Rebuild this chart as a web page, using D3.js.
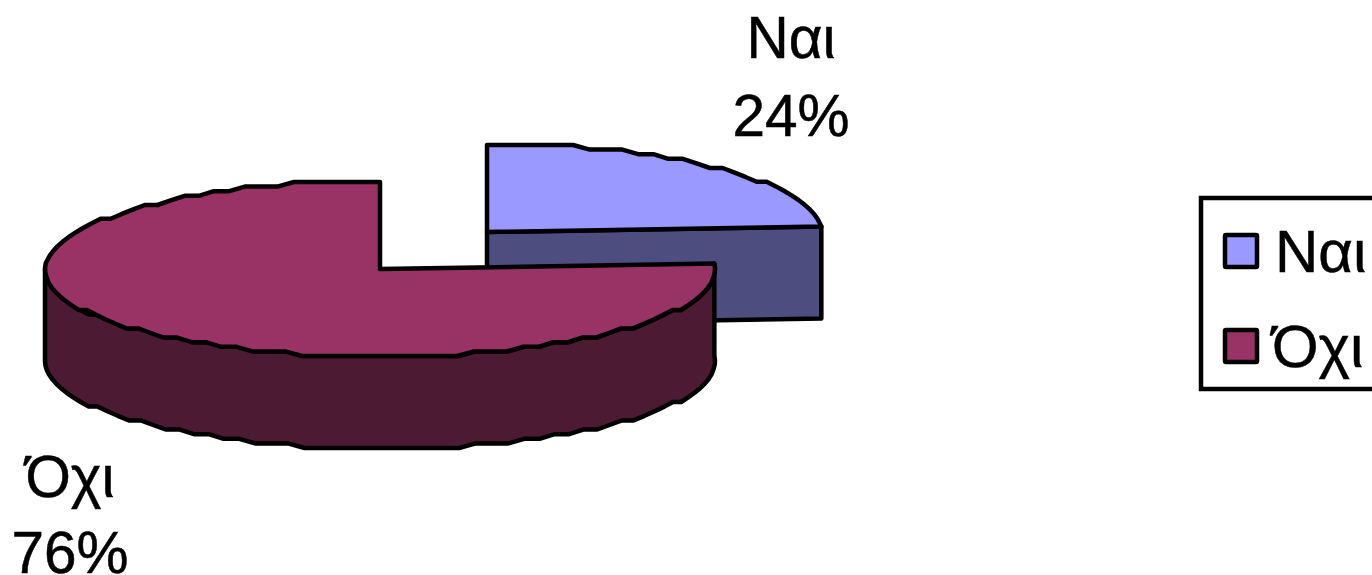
<!DOCTYPE html>
<html>
<head>
<meta charset="utf-8">
<script src="https://cdn.jsdelivr.net/npm/d3@7"></script>
<style>
  html, body { margin: 0; padding: 0; background: #fff; overflow: hidden; }
  text { font-family: "Liberation Sans", Arial, sans-serif; fill: #000; stroke: #000; stroke-width: 0.5px; }
</style>
</head>
<body>
<div id="chart"></div>
<script>
// Data
const categories = ["Ναι", "Όχι"];
const values = [24, 76];
const percentLabels = ["24%", "76%"];
const topColors = ["#9999ff", "#993366"];
const sideColors = ["#4d4d80", "#4d1a33"];

const width = 1372;
const height = 575;
const stroke = 4.5;

const rx = 335, ry = 87, depth = 92;
const stepY = 4.6; // the curve in the original is snapped to a coarse grid

// pie centers, the Nai slice is pulled out
const centers = [{ x: 487, y: 232 }, { x: 380, y: 269 }];

const svg = d3.select("#chart").append("svg")
    .attr("width", width)
    .attr("height", height);

const arcs = d3.pie().sort(null)(values);

const xUnit = d3.scaleLinear().domain([-1, 1]).range([-rx, rx]);
const yUnit = d3.scaleLinear().domain([-1, 1]).range([-ry, ry]);

// point on the rim, angle as in d3.pie (0 = top, clockwise)
function rim(c, a, dy = 0) {
    const y = yUnit(-Math.cos(a));
    const x = c.x + xUnit(Math.sin(a));
    if (Math.abs(y) < 2 * stepY) return [x, c.y + y + dy]; // keep the corners where they are
    const fromEdge = ry - Math.abs(y);
    const snapped = Math.floor(fromEdge / stepY + 0.35) * stepY;
    return [x, c.y + Math.sign(y) * (ry - snapped) + dy];
}

function rimPoints(c, a0, a1, dy = 0) {
    const n = Math.ceil((a1 - a0) / (3 * Math.PI / 180));
    return d3.range(n + 1).map(i => rim(c, a0 + (a1 - a0) * i / n, dy));
}

const line = d3.line();
const closed = pts => line(pts) + "Z";

function drawShape(pts, fill) {
    svg.append("path")
        .attr("d", closed(pts))
        .attr("fill", fill)
        .attr("stroke", "#000")
        .attr("stroke-width", stroke)
        .attr("stroke-linejoin", "round");
}

// Nai slice: flat cut wall, then the top
const c0 = centers[0], a0 = arcs[0];
const corner = rim(c0, a0.endAngle);
drawShape([[c0.x, c0.y], corner, [corner[0], corner[1] + depth], [c0.x, c0.y + depth]], sideColors[0]);
drawShape([[c0.x, c0.y], ...rimPoints(c0, a0.startAngle, a0.endAngle)], topColors[0]);

// Oxi slice: only the front of the rim shows, right corner round to the left edge
const c1 = centers[1], a1 = arcs[1];
const front = rimPoints(c1, a1.startAngle, 3 * Math.PI / 2);
const frontLow = rimPoints(c1, a1.startAngle, 3 * Math.PI / 2, depth).reverse();
drawShape([...front, ...frontLow], sideColors[1]);
drawShape([[c1.x, c1.y], ...rimPoints(c1, a1.startAngle, a1.endAngle)], topColors[1]);

// Labels next to the slices
const labelX = [791, 70];
const labelY = [[58, 136], [497, 573]];
categories.forEach((name, i) => {
    svg.append("text").attr("x", labelX[i]).attr("y", labelY[i][0])
        .attr("text-anchor", "middle").attr("font-size", 58.5).text(name);
    svg.append("text").attr("x", labelX[i]).attr("y", labelY[i][1])
        .attr("text-anchor", "middle").attr("font-size", 58.5).text(percentLabels[i]);
});

// Legend, runs off the right side of the picture
svg.append("rect")
    .attr("x", 1201).attr("y", 198)
    .attr("width", 200).attr("height", 191)
    .attr("fill", "#fff").attr("stroke", "#000").attr("stroke-width", stroke);

const legendY = d3.scalePoint().domain(categories).range([251, 346]);
const legendX = [1275, 1272];
categories.forEach((name, i) => {
    const y = legendY(name);
    svg.append("rect")
        .attr("x", 1225).attr("y", y - 16)
        .attr("width", 32).attr("height", 32)
        .attr("fill", topColors[i]).attr("stroke", "#000")
        .attr("stroke-width", stroke).attr("rx", 1);
    svg.append("text")
        .attr("x", legendX[i]).attr("y", y + 21)
        .attr("font-size", 60).text(name);
});
</script>
</body>
</html>
